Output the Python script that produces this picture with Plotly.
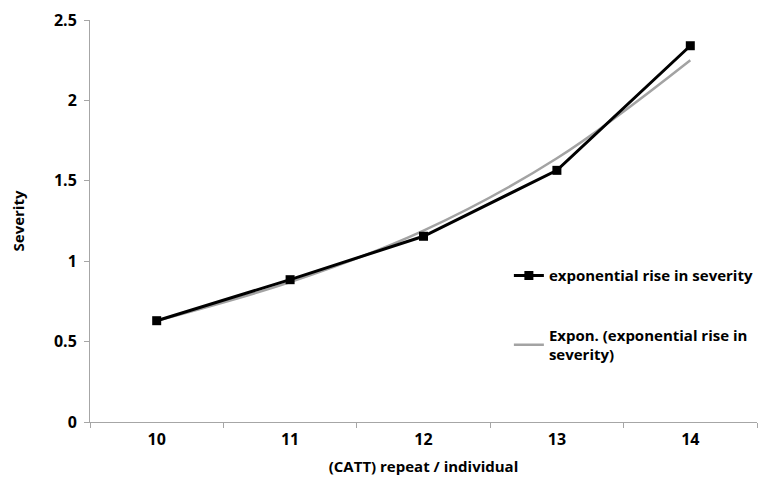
import plotly.graph_objects as go

categories = ["10", "11", "12", "13", "14"]
severity = [0.63, 0.885, 1.155, 1.565, 2.34]
trend = [0.63, 0.87, 1.19, 1.64, 2.25]
y_ticks = [0, 0.5, 1, 1.5, 2, 2.5]
y_tick_labels = ["0", "0.5", "1", "1.5", "2", "2.5"]

FONT = "Open Sans"

def b(s):
    return "<b>" + s + "</b>"

fig = go.Figure()
fig.add_trace(go.Scatter(
    x=categories, y=trend, mode="lines",
    line=dict(color="#a3a3a3", width=2.5, shape="spline"),
    name=b("Expon. (exponential rise in") + "<br>" + b("severity)"),
    legendgroup="b", legendrank=2,
))
fig.add_trace(go.Scatter(
    x=categories, y=severity, mode="lines+markers",
    line=dict(color="#000000", width=3),
    marker=dict(symbol="square", size=9, color="#000000"),
    name=b("exponential rise in severity"),
    legendgroup="a", legendrank=1,
))

fig.update_layout(
    width=759, height=479,
    margin=dict(l=82, r=10, t=12, b=65, autoexpand=False),
    paper_bgcolor="white", plot_bgcolor="white",
    font=dict(family=FONT, color="#000000"),
    showlegend=True,
    legend=dict(
        x=0.628, y=0.405, xanchor="left", yanchor="top",
        font=dict(family=FONT, size=15, color="#000000"),
        tracegroupgap=37, traceorder="grouped",
        bgcolor="rgba(0,0,0,0)", itemwidth=30,
    ),
    xaxis=dict(
        type="category", automargin=False,
        tickvals=categories, ticktext=[b(c) for c in categories],
        showgrid=False, zeroline=False,
        showline=True, linecolor="#a6a6a6", linewidth=1,
        ticks="outside", tickson="boundaries", ticklen=5, tickcolor="#a6a6a6",
        tickfont=dict(family=FONT, size=16),
        ticklabelstandoff=3,
        title=dict(text=b("(CATT) repeat / individual"),
                   font=dict(family=FONT, size=15), standoff=12),
        range=[-0.5, 4.5],
    ),
    yaxis=dict(
        range=[0, 2.5], automargin=False,
        tickvals=y_ticks, ticktext=[b(t) for t in y_tick_labels],
        showgrid=False, zeroline=False,
        showline=True, linecolor="#a6a6a6", linewidth=1,
        ticks="outside", ticklen=5, tickcolor="#a6a6a6",
        tickfont=dict(family=FONT, size=16),
        ticklabelstandoff=4,
        title=dict(text=b("Severity"), font=dict(family=FONT, size=15), standoff=26),
    ),
)

fig.write_html("out.html")
